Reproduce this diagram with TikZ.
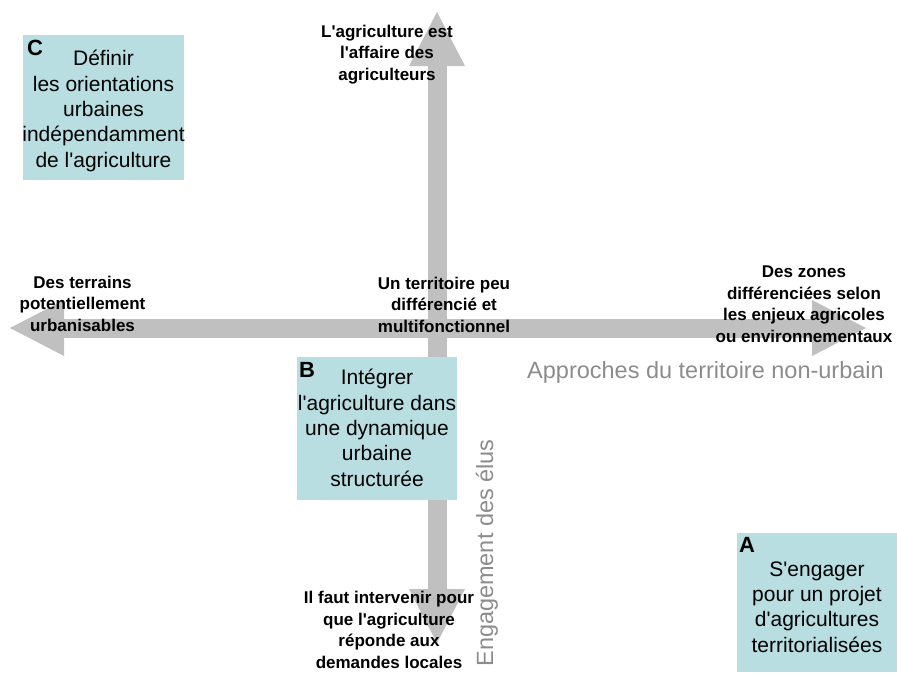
\documentclass[tikz,border=0pt]{standalone}
\usepackage{fontspec}
\setmainfont{Liberation Sans}[Ligatures=TeXOff]
\usetikzlibrary{arrows.meta}
\definecolor{boxcyan}{RGB}{184,222,226}
\definecolor{axisgray}{RGB}{192,192,192}
\definecolor{namegray}{RGB}{140,140,140}

\begin{document}
\begin{tikzpicture}[x=1pt,y=-1pt,
  axis/.style={draw=axisgray,line width=19pt,
    {Triangle[length=54pt,width=56pt,line width=0pt]}-{Triangle[length=54pt,width=56pt,line width=0pt]}},
  quadrant/.style={fill=boxcyan,inner sep=0pt},
  quadtext/.style={align=center,inner sep=0pt,font=\fontsize{21}{25.3}\selectfont},
  letter/.style={inner sep=0pt,font=\fontsize{22}{22}\selectfont\bfseries},
  pole/.style={align=center,inner sep=0pt,font=\fontsize{17}{21.5}\selectfont\bfseries},
  axisname/.style={inner sep=0pt,text=namegray,font=\fontsize{23.5}{23.5}\selectfont}]
\useasboundingbox (0,0) rectangle (897,673);
% axes
\coordinate (top) at (437,12);
\coordinate (bottom) at (437,643);
\coordinate (left) at (10,328);
\coordinate (right) at (866,328);
\draw[axis] (left) -- (right);
\draw[axis] (bottom) -- (top);
% quadrants
\node[quadrant,minimum width=161,minimum height=145] (boxC) at (103.5,107.5) {};
\node[quadrant,minimum width=160,minimum height=143] (boxB) at (377,428.5) {};
\node[quadrant,minimum width=160,minimum height=139] (boxA) at (817,602.5) {};
\node[letter] (letC) at (35,48) {C};
\node[letter] (letB) at (307,370) {B};
\node[letter] (letA) at (747,545) {A};
\node[quadtext,anchor=base] (textC) at (103.5,167) {Définir\\les orientations\\urbaines\\indépendamment\\de l'agriculture};
\node[quadtext,anchor=base] (textB) at (377,486) {Intégrer\\l'agriculture dans\\une dynamique\\urbaine\\structurée};
\node[quadtext,anchor=base] (textA) at (817,652) {S'engager\\pour un projet\\d'agricultures\\territorialisées};
% poles
\node[pole,anchor=base] (upper) at (387,80) {L'agriculture est\\l'affaire des\\agriculteurs};
\node[pole,anchor=base] (west) at (82.5,331) {Des terrains\\potentiellement\\urbanisables};
\node[pole,anchor=base] (centre) at (444,332) {Un territoire peu\\différencié et\\multifonctionnel};
\node[pole,anchor=base] (east) at (804,342) {Des zones\\différenciées selon\\les enjeux agricoles\\ou environnementaux};
\node[pole,anchor=base] (lower) at (389,668) {Il faut intervenir pour\\que l'agriculture\\réponde aux\\demandes locales};
% axis names
\node[axisname,anchor=base] (hname) at (705.5,378) {Approches du territoire non-urbain};
\node[axisname,anchor=base,rotate=90] (vname) at (493,553) {Engagement des élus};
\end{tikzpicture}
\end{document}
